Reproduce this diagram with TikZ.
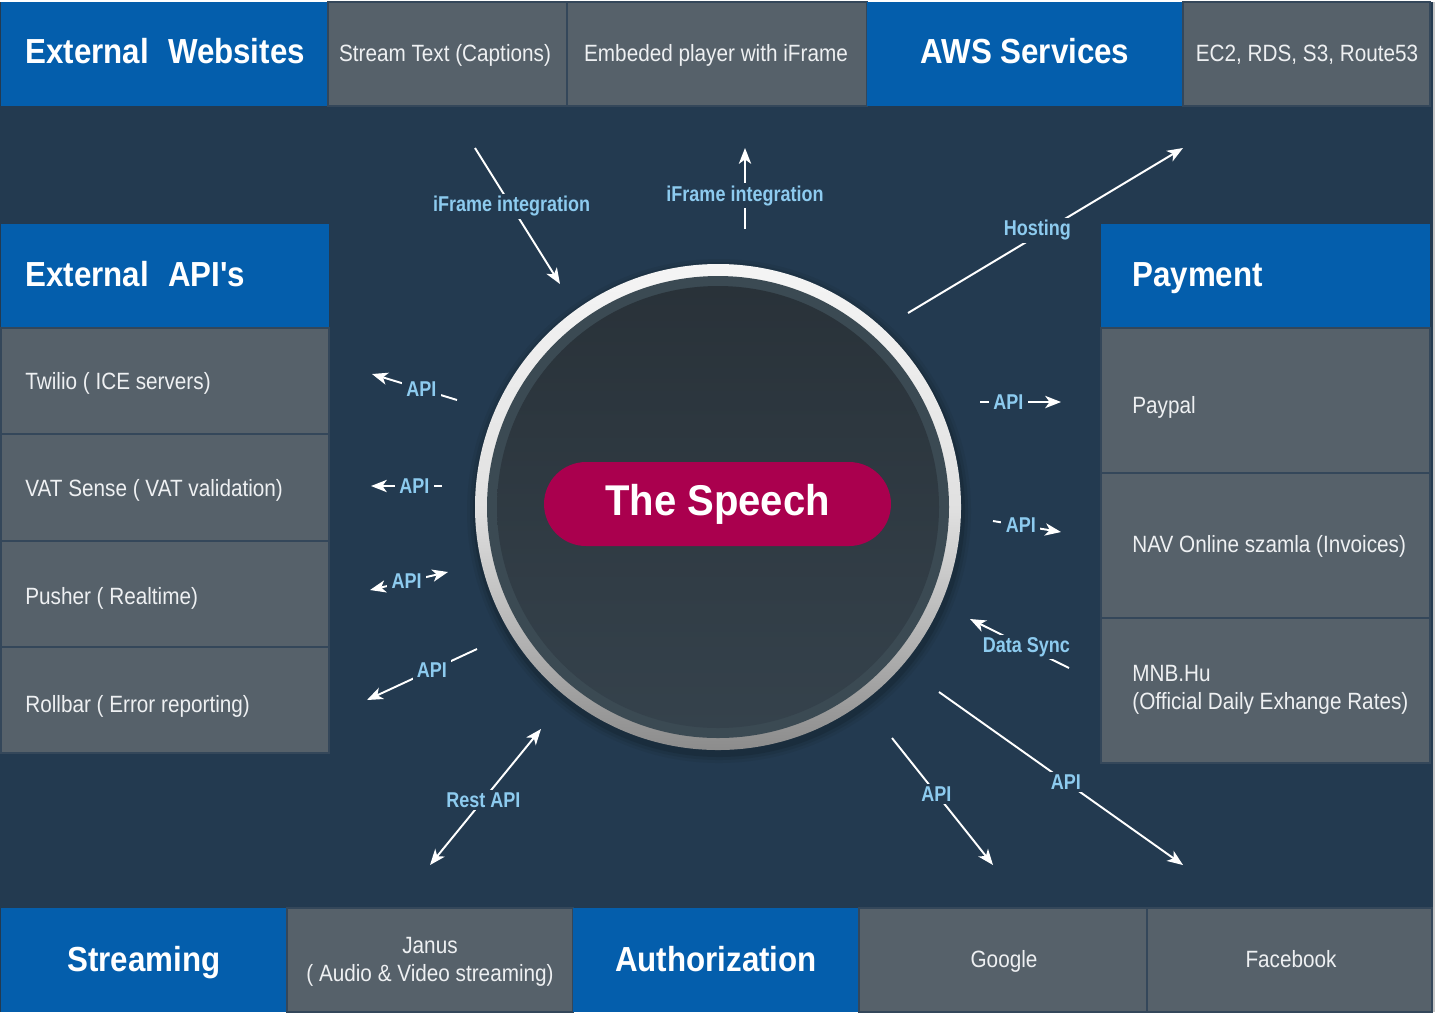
\documentclass[tikz,border=0pt]{standalone}
\usepackage{fontspec}
\setmainfont{Liberation Sans}
\newfontfamily\hdrfont[FakeStretch=0.9]{Liberation Sans}
\newfontfamily\pillfont[FakeStretch=0.93]{Liberation Sans}
\newfontfamily\cellfont[FakeStretch=0.88]{Liberation Sans}
\newfontfamily\lblfont[FakeStretch=0.84]{Liberation Sans}
\usetikzlibrary{fit,arrows.meta}
\definecolor{bgnavy}{HTML}{233A50}
\definecolor{hdrblue}{HTML}{045EAC}
\definecolor{cellgray}{HTML}{56616A}
\definecolor{sepline}{HTML}{34475A}
\definecolor{lblblue}{HTML}{8DCBEF}
\definecolor{pillred}{HTML}{AA004E}
\definecolor{ringteal}{HTML}{3B4A53}
\definecolor{innertop}{HTML}{293239}
\definecolor{innerbot}{HTML}{35424C}
\definecolor{celltext}{HTML}{EEF0F2}
\tikzset{
  hcell/.style={fill=hdrblue, inner sep=0pt},
  gcell/.style={fill=cellgray, draw=sepline, line width=1pt, inner sep=0pt},
  hdr/.style={font=\hdrfont\bfseries\fontsize{19.8pt}{22pt}\selectfont, text=white, inner sep=0pt},
  ctext/.style={font=\cellfont\fontsize{13.4pt}{15.9pt}\selectfont, text=celltext, inner sep=0pt},
  lbl/.style={font=\lblfont\bfseries\fontsize{12.2pt}{13pt}\selectfont, text=lblblue, fill=bgnavy, inner xsep=2.5pt, inner ysep=1.5pt},
  arr/.style={draw=white, line width=1.1pt, ->},
  arrb/.style={draw=white, line width=1.1pt, <->},
}
\begin{document}
\begin{tikzpicture}[x=0.02cm, y=-0.02cm, >={Stealth[length=9pt,width=7pt,inset=2.5pt]}]
\useasboundingbox (0,0) rectangle (1435,1012);
\fill[white] (0,0) rectangle (1435,1012);
\fill[bgnavy] (0,2) rectangle (1433,1012);
\fill[gray!45] (1433,2) rectangle (1435,1012);

% ---- top row
\node[hcell, fit={(1,2) (328,106)}] (extweb) {};
\node[gcell, fit={(328,2) (567,106)}] (stream) {};
\node[gcell, fit={(567,2) (867,106)}] (embed) {};
\node[hcell, fit={(867,2) (1183,106)}] (aws) {};
\node[gcell, fit={(1183,2) (1430,106)}] (ec2) {};
\node[hdr, anchor=base west] (extwebT) at (25,63) {External\hspace{0.55em}Websites};
\node[ctext, anchor=base] (streamT) at (445,61) {Stream Text (Captions)};
\node[ctext, anchor=base] (embedT) at (716,61) {Embeded player with iFrame};
\node[hdr, anchor=base] (awsT) at (1025,63) {AWS Services};
\node[ctext, anchor=base] (ec2T) at (1307,61) {EC2, RDS, S3, Route53};

% ---- left column
\node[hcell, fit={(1,224) (329,328)}] (extapi) {};
\node[gcell, fit={(1,328) (329,434)}] (twilio) {};
\node[gcell, fit={(1,434) (329,541)}] (vat) {};
\node[gcell, fit={(1,541) (329,647)}] (pusher) {};
\node[gcell, fit={(1,647) (329,753)}] (rollbar) {};
\node[hdr, anchor=base west] (extapiT) at (25,286) {External\hspace{0.55em}API's};
\node[ctext, anchor=base west] (twilioT) at (25,389) {Twilio ( ICE servers)};
\node[ctext, anchor=base west] (vatT) at (25,496) {VAT Sense ( VAT validation)};
\node[ctext, anchor=base west] (pusherT) at (25,604) {Pusher ( Realtime)};
\node[ctext, anchor=base west] (rollbarT) at (25,712) {Rollbar ( Error reporting)};

% ---- right column
\node[hcell, fit={(1101,224) (1430,328)}] (payment) {};
\node[gcell, fit={(1101,328) (1430,473)}] (paypal) {};
\node[gcell, fit={(1101,473) (1430,618)}] (nav) {};
\node[gcell, fit={(1101,618) (1430,763)}] (mnb) {};
\node[hdr, anchor=base west] (paymentT) at (1132,286) {Payment};
\node[ctext, anchor=base west] (paypalT) at (1132,413) {Paypal};
\node[ctext, anchor=base west] (navT) at (1132,552) {NAV Online szamla (Invoices)};
\node[ctext, anchor=west, align=left] (mnbT) at (1132,690) {MNB.Hu\\(Official Daily Exhange Rates)};

% ---- bottom row
\node[hcell, fit={(1,908) (287,1012)}] (streaming) {};
\node[gcell, fit={(287,908) (573,1012)}] (janus) {};
\node[hcell, fit={(573,908) (859,1012)}] (auth) {};
\node[gcell, fit={(859,908) (1147,1012)}] (google) {};
\node[gcell, fit={(1147,908) (1432,1012)}] (facebook) {};
\node[hdr, anchor=base] (streamingT) at (144,971) {Streaming};
\node[ctext, align=center] (janusT) at (430,962) {Janus\\( Audio \& Video streaming)};
\node[hdr, anchor=base] (authT) at (716,971) {Authorization};
\node[ctext, anchor=base] (googleT) at (1004,967) {Google};
\node[ctext, anchor=base] (facebookT) at (1291,967) {Facebook};

% ---- central circle
\foreach \r/\o in {252/0.05,249/0.07,246/0.1}{\fill[black, opacity=\o] (719,511) circle (\r);}
\shade[top color=white!96!black, bottom color=black!45, middle color=black!12] (718,507) circle (243);
\fill[ringteal] (718,507) circle (231);
\shade[top color=innertop, bottom color=innerbot] (718,507) circle (221);
\node[circle, minimum size=9.72cm, inner sep=0pt] (hub) at (718,507) {};
\node[fill=pillred, rounded corners=0.84cm, minimum width=6.94cm, minimum height=1.68cm, inner sep=0pt,
      text=white, font=\pillfont\bfseries\fontsize{24.5pt}{26pt}\selectfont] (speech) at (717.5,504) {The Speech};

% ---- connector end points
\coordinate (a1s) at (475,148);  \coordinate (a1e) at (560,284);
\coordinate (a2s) at (745,229);  \coordinate (a2e) at (745,148);
\coordinate (a3s) at (908,313);  \coordinate (a3e) at (1183,148);
\coordinate (l1s) at (457,400);  \coordinate (l1e) at (372,374);
\coordinate (l2s) at (442,486);  \coordinate (l2e) at (371,486);
\coordinate (l3s) at (370,590);  \coordinate (l3e) at (448,572);
\coordinate (l4s) at (477,649);  \coordinate (l4e) at (367,700);
\coordinate (r1s) at (980,402);  \coordinate (r1e) at (1061,402);
\coordinate (r2s) at (993,521);  \coordinate (r2e) at (1061,532);
\coordinate (r3s) at (1069,668); \coordinate (r3e) at (970,619);
\coordinate (b1s) at (430,865);  \coordinate (b1e) at (541,729);
\coordinate (b2s) at (892,738);  \coordinate (b2e) at (993,865);
\coordinate (b3s) at (939,692);  \coordinate (b3e) at (1183,865);

% ---- connectors
\draw[arr] (a1s) -- node[lbl, pos=0.43] (a1l) {iFrame integration} (a1e);
\draw[arr] (a2s) -- node[lbl, pos=0.41] (a2l) {iFrame integration} (a2e);
\draw[arr] (a3s) -- node[lbl, pos=0.47, yshift=0.1cm] (a3l) {Hosting} (a3e);
\draw[arr] (l1s) -- node[lbl, pos=0.42] (l1l) {API} (l1e);
\draw[arr] (l2s) -- node[lbl, pos=0.39] (l2l) {API} (l2e);
\draw[arrb] (l3s) -- node[lbl, pos=0.47] (l3l) {API} (l3e);
\draw[arr] (l4s) -- node[lbl, pos=0.41] (l4l) {API} (l4e);
\draw[arr] (r1s) -- node[lbl, pos=0.35] (r1l) {API} (r1e);
\draw[arr] (r2s) -- node[lbl, pos=0.41] (r2l) {API} (r2e);
\draw[arr] (r3s) -- node[lbl, pos=0.43] (r3l) {Data Sync} (r3e);
\draw[arrb] (b1s) -- node[lbl, pos=0.48] (b1l) {Rest API} (b1e);
\draw[arr] (b2s) -- node[lbl, pos=0.44] (b2l) {API} (b2e);
\draw[arr] (b3s) -- node[lbl, pos=0.52] (b3l) {API} (b3e);
\end{tikzpicture}
\end{document}
